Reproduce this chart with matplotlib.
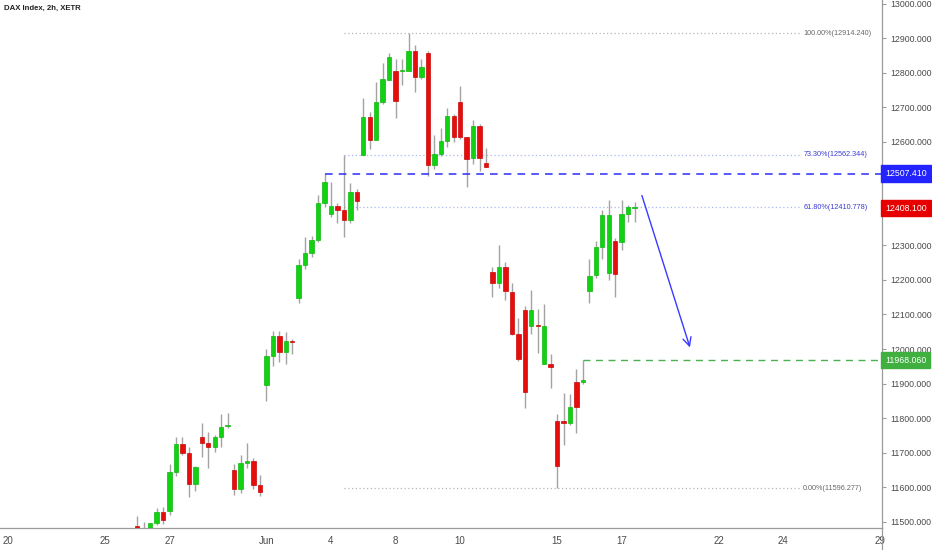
import matplotlib
matplotlib.use("Agg")
import matplotlib.pyplot as plt
from matplotlib import font_manager
from matplotlib.lines import Line2D
import numpy as np

# 2h bars, 5 per trading day, bar 0 = May 20 09:00
bar_idx = list(range(20, 98))
body_top = [11488, 11478, 11495, 11529, 11529, 11643, 11724, 11724, 11698, 11657,
            11746, 11727, 11744, 11775, 11781, 11650, 11669, 11675, 11675, 11606,
            11980, 12038, 12038, 12023, 12024, 12242, 12277, 12316, 12422, 12484,
            12415, 12415, 12402, 12455, 12455, 12673, 12673, 12716, 12781, 12845,
            12806, 12808, 12864, 12864, 12815, 12856, 12566, 12602, 12674, 12674,
            12716, 12613, 12646, 12646, 12538, 12222, 12238, 12236, 12166, 12043,
            12113, 12113, 12068, 12068, 11956, 11792, 11792, 11833, 11905, 11910,
            12212, 12296, 12388, 12388, 12313, 12390, 12412, 12412]
body_bot = [11470, 11472, 11470, 11496, 11505, 11530, 11643, 11698, 11609, 11609,
            11727, 11717, 11717, 11744, 11776, 11594, 11594, 11669, 11606, 11587,
            11896, 11980, 11992, 11992, 12020, 12147, 12242, 12277, 12316, 12422,
            12390, 12402, 12373, 12373, 12428, 12562, 12605, 12605, 12716, 12779,
            12719, 12804, 12806, 12787, 12787, 12533, 12533, 12564, 12602, 12615,
            12615, 12549, 12552, 12552, 12528, 12190, 12190, 12169, 12043, 11970,
            11875, 12067, 12066, 11957, 11949, 11661, 11785, 11785, 11833, 11905,
            12168, 12214, 12296, 12219, 12216, 12311, 12391, 12408.1]
highs = [11516, 11499, 11497, 11540, 11543, 11666, 11746, 11746, 11717, 11660,
         11787, 11760, 11752, 11812, 11814, 11667, 11693, 11729, 11684, 11635,
         11999, 12053, 12053, 12048, 12029, 12260, 12323, 12327, 12446, 12507,
         12483, 12424, 12562, 12481, 12463, 12726, 12687, 12774, 12829, 12858,
         12839, 12839, 12914, 12880, 12839, 12862, 12620, 12639, 12697, 12680,
         12761, 12613, 12663, 12651, 12581, 12236, 12301, 12251, 12190, 12089,
         12125, 12171, 12115, 12130, 11986, 11811, 11873, 11870, 11941, 11968,
         12262, 12313, 12402, 12431, 12320, 12431, 12418, 12426]
lows = [11455, 11460, 11465, 11490, 11492, 11519, 11632, 11692, 11572, 11590,
        11686, 11655, 11702, 11717, 11770, 11577, 11583, 11655, 11594, 11575,
        11849, 11951, 11961, 11957, 11985, 12132, 12231, 12265, 12310, 12412,
        12381, 12364, 12325, 12366, 12402, 12562, 12578, 12605, 12708, 12779,
        12668, 12764, 12806, 12745, 12782, 12500, 12521, 12560, 12584, 12600,
        12608, 12470, 12535, 12515, 12528, 12151, 12176, 12142, 12040, 11966,
        11828, 12042, 11989, 11957, 11886, 11597, 11722, 11781, 11758, 11900,
        12132, 12206, 12261, 12200, 12151, 12287, 12369, 12369]
is_up = "RGGGRGGRRGRRGGGRGGRRGGRGRGGGGGGRRGRGRGGGRGGRGRGGGRRRGRRRGRRRRGRGRRRGRGGGGGRGGGR"

tick_pos = [0, 15, 25, 40, 50, 60, 70, 85, 95, 110, 120, 135]
tick_lab = ["20", "25", "27", "Jun", "4", "8", "10", "15", "17", "22", "24", "29"]
y_ticks = list(range(11500, 13001, 100))

fib_levels = [12914.240, 12562.344, 12410.778, 11596.277]
fib_names = ["100.00%", "73.30%", "61.80%", "0.00%"]
resist = 12507.410
support = 11968.060
last_close = 12408.100
arrow_from = (98.0, 12452)
arrow_to = (105.7, 11997)

names = {f.name for f in font_manager.fontManager.ttflist}
fnt = "Liberation Sans Narrow" if "Liberation Sans Narrow" in names else "Liberation Sans"
plt.rcParams["font.family"] = [fnt, "DejaVu Sans"]

GREEN = "#12d012"
RED = "#e60d0d"
WICK = "#a3a3a3"
AXC = "#9b9b9b"
TXT = "#4a4a4a"

fig = plt.figure(figsize=(9.32, 5.5), dpi=100)
ax = fig.add_axes([0, 22 / 550, 882 / 932, 528 / 550])

x = np.array(bar_idx)
top = np.array(body_top, dtype=float)
bot = np.array(body_bot, dtype=float)
up = np.array([c == "G" for c in is_up[:len(x)]])

ax.vlines(x, lows, highs, color=WICK, lw=1.0, zorder=2)
hgt = np.maximum(top - bot, 3.0)
ax.bar(x[up], hgt[up], bottom=bot[up], width=0.68, color=GREEN,
       edgecolor="#0db80d", lw=0.5, zorder=3)
ax.bar(x[~up], hgt[~up], bottom=bot[~up], width=0.68, color=RED,
       edgecolor="#c80808", lw=0.5, zorder=3)

# fibonacci retracement
fib_cols = ["#b5b5b5", "#a9b9f2", "#a9b9f2", "#b5b5b5"]
fib_txt = ["#666666", "#3b3bd6", "#3b3bd6", "#666666"]
for lv, nm, lc, tc in zip(fib_levels, fib_names, fib_cols, fib_txt):
    ax.hlines(lv, 52, 122.7, colors=lc, linestyles=(0, (1, 2)), lw=0.9, zorder=1)
    ax.text(123.1, lv, "%s(%.3f)" % (nm, lv), fontsize=5.2, color=tc,
            va="center", ha="left")

ax.hlines(resist, 49, 140, colors="#2b2bff", linestyles=(0, (5, 4)), lw=1.1, zorder=4)
ax.hlines(support, 89, 140, colors="#4caf50", linestyles=(0, (5, 4)), lw=1.0, zorder=4)

ax.annotate("", xy=arrow_to, xytext=arrow_from,
            arrowprops=dict(arrowstyle="->,head_length=0.6,head_width=0.3",
                            color="#3a3aff", lw=1.0))

ax.set_xlim(-1.24, 135.3)
ax.set_ylim(11481.8, 13010.4)
ax.yaxis.tick_right()
ax.set_yticks(y_ticks)
# the 12400 and 12500 labels sit under the price tags
ax.set_yticklabels(["" if v in (12400, 12500) else "%.3f" % v for v in y_ticks])
ax.set_xticks(tick_pos)
ax.set_xticklabels(tick_lab)
ax.tick_params(axis="y", length=3, color=AXC, labelsize=6.3, labelcolor=TXT, pad=3)
ax.tick_params(axis="x", length=0, labelsize=7, labelcolor=TXT, pad=6)
for s in ["top", "left"]:
    ax.spines[s].set_visible(False)
ax.spines["right"].set_color(AXC)
ax.spines["bottom"].set_color(AXC)
ax.spines["right"].set_linewidth(0.9)
ax.spines["bottom"].set_linewidth(0.9)
fig.add_artist(Line2D([882 / 932, 882 / 932], [0, 22 / 550], color=AXC, lw=0.9))

# price tags on the right scale
tags = [(resist, "#2323ff"), (last_close, "#e60000"), (support, "#3faf3f")]
for val, col in tags:
    ax.text(1.027, val, "%.3f" % val, transform=ax.get_yaxis_transform(),
            fontsize=6.3, color="white", va="center", ha="center", zorder=10,
            bbox=dict(boxstyle="square,pad=0.45", fc=col, ec=col))

fig.text(4 / 932, 1 - 8 / 550, "DAX Index, 2h, XETR", fontsize=5.6,
         fontweight="bold", color="#222222", va="center", ha="left")

fig.savefig("out.png", dpi=100, facecolor="white")
